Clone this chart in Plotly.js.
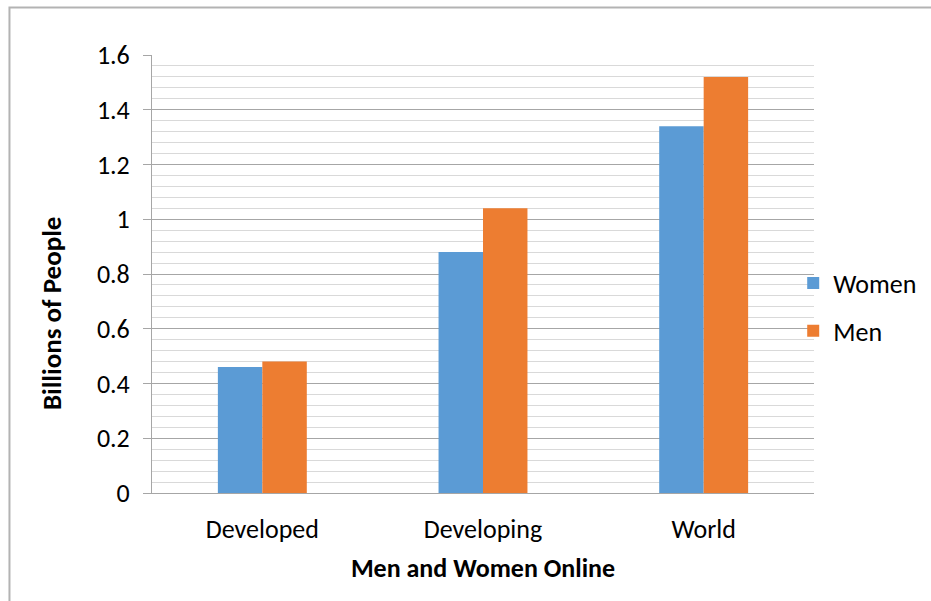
<!DOCTYPE html>
<html>
<head>
<meta charset="utf-8">
<script src="https://cdn.plot.ly/plotly-3.0.1.min.js"></script>
<style>
  html, body { margin: 0; padding: 0; background: #fff; }
  #chart { width: 931px; height: 601px; }
</style>
</head>
<body>
<div id="chart"></div>
<script>
const categories = ["Developed", "Developing", "World"];
const women = [0.46, 0.88, 1.34];
const men = [0.48, 1.04, 1.52];
const yTickVals = [0, 0.2, 0.4, 0.6, 0.8, 1, 1.2, 1.4, 1.6];

const FONT = "Calibri, Carlito, 'Open Sans', sans-serif";

const traces = [
  {
    type: "bar", name: "Women", x: categories, y: women,
    marker: { color: "#5b9bd5" }, legendgroup: "w", hoverinfo: "x+y+name"
  },
  {
    type: "bar", name: "Men", x: categories, y: men,
    marker: { color: "#ed7d31" }, legendgroup: "m", hoverinfo: "x+y+name"
  }
];

const layout = {
  width: 931, height: 601,
  margin: { l: 152, r: 117, t: 55, b: 108, autoexpand: false },
  paper_bgcolor: "#fff", plot_bgcolor: "#fff",
  font: { family: FONT, size: 26, color: "#000" },
  barmode: "group",
  bargap: 0.597, bargroupgap: 0,
  showlegend: true,
  legend: {
    xref: "container", yref: "container",
    x: 0.852, xanchor: "left", y: 0.489, yanchor: "middle",
    traceorder: "grouped", tracegroupgap: 11,
    itemwidth: 30,
    bgcolor: "rgba(0,0,0,0)",
    font: { family: FONT, size: 26, color: "#000" }
  },
  xaxis: {
    type: "category",
    showline: true, linecolor: "#a6a6a6", linewidth: 1,
    ticks: "outside", ticklen: 13, tickcolor: "rgba(0,0,0,0)",
    showgrid: false,
    tickfont: { family: FONT, size: 26, color: "#000" },
    title: { text: "<b>Men and Women Online</b>", standoff: 14, font: { family: FONT, size: 26, color: "#000" } }
  },
  yaxis: {
    range: [0, 1.6],
    tickvals: yTickVals,
    showline: true, linecolor: "#a6a6a6", linewidth: 1,
    ticks: "outside", ticklen: 8, tickcolor: "#a6a6a6",
    ticklabelstandoff: 8,
    showgrid: true, gridcolor: "#a6a6a6", gridwidth: 1,
    zeroline: false,
    minor: { dtick: 0.04, showgrid: true, gridcolor: "#d9d9d9", gridwidth: 1, ticks: "" },
    tickfont: { family: FONT, size: 26, color: "#000" }
  },
  annotations: [
    {
      text: "<b>Billions of People</b>", xref: "paper", yref: "paper",
      x: -0.151, y: 0.4087, xanchor: "center", yanchor: "middle",
      textangle: -90, showarrow: false,
      font: { family: FONT, size: 27, color: "#000" }
    }
  ],
  shapes: [
    {
      type: "path", xref: "paper", yref: "paper",
      path: "M -0.2153 -0.4 L -0.2153 1.1084 L 1.4 1.1084",
      line: { color: "#b3b3b3", width: 2 }
    }
  ]
};

Plotly.newPlot("chart", traces, layout, { displayModeBar: false, staticPlot: true });
</script>
</body>
</html>
